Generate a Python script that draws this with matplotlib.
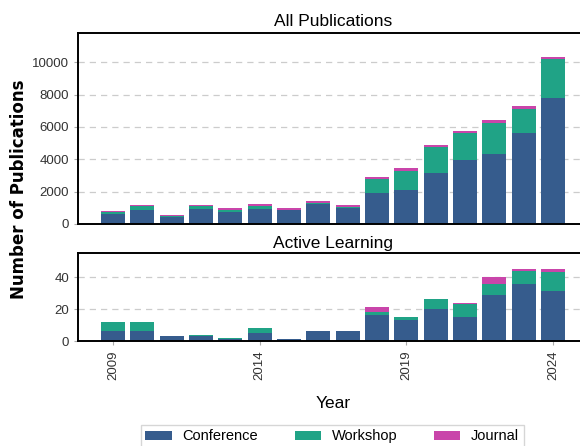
import matplotlib
matplotlib.use("Agg")
import matplotlib.pyplot as plt
import numpy as np

years = list(range(2009, 2025))
all_conference = [620, 868, 434, 930, 744, 930, 868, 1240, 992, 1921, 2107, 3161, 3967, 4339, 5640, 7810]
all_workshop = [124, 268, 83, 206, 124, 186, 20, 62, 41, 868, 1178, 1570, 1632, 1880, 1447, 2376]
all_journal = [62, 62, 62, 62, 124, 144, 124, 124, 165, 145, 145, 124, 124, 186, 186, 165]

al_conference = [6, 6, 3, 3, 1, 5, 1, 6, 6, 16, 13, 20, 15, 29, 36, 31]
al_workshop = [6, 6, 0, 1, 1, 3, 0, 0, 0, 2, 2, 6, 8, 7, 8, 12]
al_journal = [0, 0, 0, 0, 0, 0, 0, 0, 0, 3, 0, 0, 1, 4, 1, 2]

series_names = ["Conference", "Workshop", "Journal"]
colors = ["#365c8d", "#20a386", "#c945aa"]

plt.rcParams['font.family'] = ['Liberation Sans', 'DejaVu Sans']

fig = plt.figure(figsize=(5.8, 4.46), dpi=100)
ax1 = fig.add_axes([0.1345, 0.4978, 0.879, 0.428])
ax2 = fig.add_axes([0.1345, 0.2354, 0.879, 0.197])

def draw(ax, conf, ws, jr, ylim, yticks):
    x = np.array(years)
    c = np.array(conf); w = np.array(ws); j = np.array(jr)
    ax.bar(x, c, width=0.82, color=colors[0], label=series_names[0], zorder=2)
    ax.bar(x, w, width=0.82, bottom=c, color=colors[1], label=series_names[1], zorder=2)
    ax.bar(x, j, width=0.82, bottom=c + w, color=colors[2], label=series_names[2], zorder=2)
    ax.set_xlim(years[0] - 1.19, years[-1] + 1.19)
    ax.set_ylim(*ylim)
    ax.set_yticks(yticks)
    ax.yaxis.grid(True, linestyle=(0, (5, 4)), color="#cccccc", linewidth=0.9, zorder=0)
    ax.set_axisbelow(True)
    for s in ax.spines.values():
        s.set_linewidth(1.4)
        s.set_color("black")
    ax.tick_params(axis='y', labelsize=9.5, labelcolor="#333333", length=3, color="#aaaaaa")

draw(ax1, all_conference, all_workshop, all_journal, (0, 11800), [0, 2000, 4000, 6000, 8000, 10000])
draw(ax2, al_conference, al_workshop, al_journal, (0, 55), [0, 20, 40])

ax1.set_xticks([])
ax2.set_xticks([2009, 2014, 2019, 2024])
ax2.set_xticklabels(["2009", "2014", "2019", "2024"], rotation=90)
ax2.tick_params(axis='x', labelsize=9.5, labelcolor="#333333", length=3, color="#aaaaaa")

ax1.set_title("All Publications", fontsize=12.5, pad=5)
ax2.set_title("Active Learning", fontsize=12.5, pad=4)
ax2.set_xlabel("Year", fontsize=12.5, labelpad=12)

fig.text(0.033, 0.575, "Number of Publications", rotation=90, va="center", ha="center",
         fontsize=12, fontweight="bold", family="DejaVu Sans")

handles, labels = ax1.get_legend_handles_labels()
fig.legend(handles, labels, loc="upper center", bbox_to_anchor=(0.573, 0.047), ncol=3,
           fontsize=10.5, frameon=True, edgecolor="#cccccc", fancybox=False,
           handlelength=1.8, handleheight=0.6, handletextpad=0.75, columnspacing=2.5,
           borderpad=0.3, borderaxespad=0)

fig.savefig("out.png", dpi=100)
